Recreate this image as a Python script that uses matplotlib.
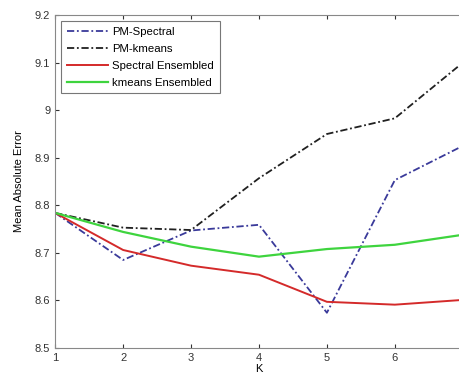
import numpy as np
import matplotlib.pyplot as plt

plt.rcParams['font.family'] = ['Liberation Sans', 'DejaVu Sans']

k = [1, 2, 3, 4, 5, 6, 7]
pm_spectral = [8.784, 8.685, 8.747, 8.759, 8.574, 8.853, 8.925]
pm_kmeans = [8.784, 8.753, 8.748, 8.857, 8.950, 8.983, 9.100]
spectral_ens = [8.784, 8.706, 8.673, 8.654, 8.597, 8.591, 8.601]
kmeans_ens = [8.784, 8.744, 8.713, 8.692, 8.708, 8.717, 8.738]

fig = plt.figure(figsize=(4.6, 3.79), dpi=100)
ax = fig.add_axes([0.12, 0.082, 0.886, 0.878])

dd = (0, (4, 1.5, 1, 1.5))
ax.plot(k, pm_spectral, color='#3a3a9a', lw=1.3, linestyle=dd, label='PM-Spectral')
ax.plot(k, pm_kmeans, color='#202020', lw=1.3, linestyle=dd, label='PM-kmeans')
ax.plot(k, spectral_ens, color='#d42a2a', lw=1.4, label='Spectral Ensembled')
ax.plot(k, kmeans_ens, color='#3ed43e', lw=1.6, label='kmeans Ensembled')

ax.set_xlim(1, 7)
ax.set_ylim(8.5, 9.2)
ax.set_xticks(k)
ax.set_yticks([8.5, 8.6, 8.7, 8.8, 8.9, 9.0, 9.1, 9.2])
ax.set_yticklabels(['8.5', '8.6', '8.7', '8.8', '8.9', '9', '9.1', '9.2'])
ax.tick_params(direction='in', top=True, right=True, labelsize=8, colors='#333333', length=3)
for s in ax.spines.values():
    s.set_color('#888888')

ax.set_xlabel('K', fontsize=8, labelpad=1)
ax.set_ylabel('Mean Absolute Error', fontsize=8, labelpad=8)

leg = ax.legend(loc='upper left', fontsize=8.2, frameon=True, fancybox=False,
                edgecolor='#555555', handlelength=3.6, borderaxespad=0.5,
                labelspacing=0.62, handletextpad=0.4, borderpad=0.5)
leg.get_frame().set_linewidth(0.8)

fig.savefig('out.png', dpi=100)
